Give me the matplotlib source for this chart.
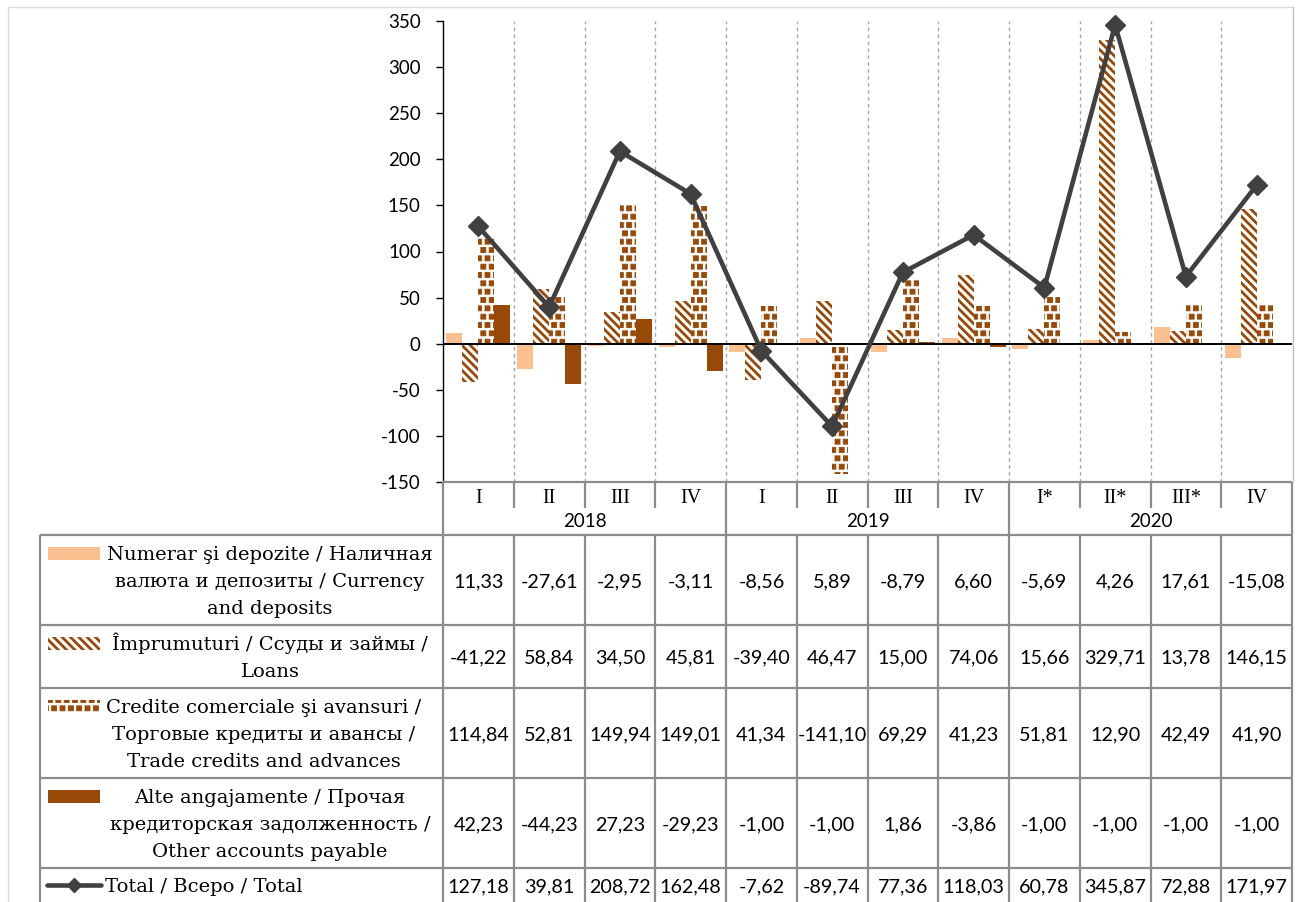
import numpy as np
import matplotlib
matplotlib.use('Agg')
import matplotlib.pyplot as plt
from matplotlib import hatch as mhatch
from matplotlib.path import Path
from matplotlib.patches import Rectangle

# ---------------- data ----------------
quarters = ['I', 'II', 'III', 'IV', 'I', 'II', 'III', 'IV', 'I*', 'II*', 'III*', 'IV']
years = ['2018', '2019', '2020']
currency = [11.33, -27.61, -2.95, -3.11, -8.56, 5.89, -8.79, 6.60, -5.69, 4.26, 17.61, -15.08]
loans = [-41.22, 58.84, 34.50, 45.81, -39.40, 46.47, 15.00, 74.06, 15.66, 329.71, 13.78, 146.15]
trade = [114.84, 52.81, 149.94, 149.01, 41.34, -141.10, 69.29, 41.23, 51.81, 12.90, 42.49, 41.90]
other = [42.23, -44.23, 27.23, -29.23, -1.00, -1.00, 1.86, -3.86, -1.00, -1.00, -1.00, -1.00]
total = [127.18, 39.81, 208.72, 162.48, -7.62, -89.74, 77.36, 118.03, 60.78, 345.87, 72.88, 171.97]
label_currency = ['Numerar şi depozite / Наличная', 'валюта и депозиты / Currency', 'and deposits']
label_loans = ['Împrumuturi / Ссуды и займы /', 'Loans']
label_trade = ['Credite comerciale şi avansuri /', 'Торговые кредиты и авансы /', 'Trade credits and advances']
label_other = ['Alte angajamente / Прочая', 'кредиторская задолженность /', 'Other accounts payable']
label_total = 'Total / Всеро / Total'
yticks = [-150, -100, -50, 0, 50, 100, 150, 200, 250, 300, 350]


# ---------------- custom square hatch (replaces '*') ----------------
class SmallSquares(mhatch.Shapes):
    filled = True
    size = 0.6

    def __init__(self, hatch, density):
        self.num_rows = hatch.count('*') * density
        sq = Path.unit_rectangle()
        self.shape_vertices = sq.vertices - 0.5
        self.shape_codes = sq.codes
        super().__init__(hatch, density)


_i = mhatch._hatch_types.index(mhatch.Stars)
mhatch._hatch_types[_i] = SmallSquares

# ---------------- style ----------------
C_CUR = '#FAC090'
C_BROWN = '#984807'
C_LINE = '#404040'
C_GRID = '#8c8c8c'
SERIF = 'DejaVu Serif'
CAT_SERIF = 'Liberation Serif'
SANS = 'Lato'

W, H = 1303, 902
L, R, T, B = 443, 1292, 21, 482
n = len(quarters)
cw = (R - L) / n

fig = plt.figure(figsize=(W / 100, H / 100), dpi=100)
ax = fig.add_axes([L / W, 1 - B / H, (R - L) / W, (B - T) / H])
x = np.arange(n)
bw = 0.226

series = [currency, loans, trade, other]
styles = [
    dict(color=C_CUR, hatch=None, hlw=1.0),
    dict(facecolor='white', edgecolor=C_BROWN, hatch='\\\\\\\\', hlw=2.0),
    dict(facecolor='white', edgecolor=C_BROWN, hatch='**', hlw=0.6),
    dict(color=C_BROWN, hatch=None, hlw=1.0),
]
for k, (vals, st) in enumerate(zip(series, styles)):
    st = dict(st)
    hlw = st.pop('hlw')
    with plt.rc_context({'hatch.linewidth': hlw}):
        ax.bar(x + (k - 1.5) * bw, vals, width=bw, linewidth=0, zorder=2, **st)

ax.plot(x, total, color=C_LINE, lw=3.3, marker='D', ms=10.5, zorder=6, clip_on=False)
ax.axhline(0, color='black', lw=1.4, zorder=4)
for b in np.arange(0.5, n - 0.5, 1.0):
    ax.axvline(b, color='#a6a6a6', lw=1.0, ls=(0, (2.5, 2.5)), zorder=0.5)

ax.set_xlim(-0.5, n - 0.5)
ax.set_ylim(-150, 350)
ax.set_yticks(yticks)
ax.set_yticklabels([str(v) for v in yticks], fontsize=13.5, family=SANS)
ax.tick_params(axis='y', length=5, width=1, color='black', pad=11)
ax.set_xticks([])
for s in ['top', 'right', 'bottom']:
    ax.spines[s].set_visible(False)
ax.spines['left'].set_color('black')
ax.spines['left'].set_linewidth(1.0)

# ---------------- table overlay (pixel coordinates) ----------------
tab = fig.add_axes([0, 0, 1, 1])
tab.set_xlim(0, W)
tab.set_ylim(H, 0)
tab.axis('off')


def line(xs, ys, color=C_GRID, lw=1.6):
    tab.plot(xs, ys, color=color, lw=lw, solid_capstyle='butt')


# outer border
line([8, 8], [7, H], color='#d9d9d9', lw=1.0)
line([8, 1294], [7, 7], color='#d9d9d9', lw=1.0)
line([R + 1, R + 1], [7, B], color='#bfbfbf', lw=1.0)

row_edges = [535, 625, 688, 778, 868, 902]
LX = 40
line([L, R], [B, B])
for y in row_edges[:-1]:
    line([LX, R], [y, y])
line([LX, LX], [535, H])
line([L, L], [B, H])
line([R, R], [B, H])
for k in range(1, n):
    xb = L + k * cw
    if k % 4 == 0:
        line([xb, xb], [B, H])
    else:
        line([xb, xb], [B, 508])
        line([xb, xb], [535, H])

# category + year labels
for i, q in enumerate(quarters):
    tab.text(L + (i + 0.5) * cw, 503, q, ha='center', va='baseline', fontsize=14.5, family=CAT_SERIF)
for j, yname in enumerate(years):
    tab.text(L + (4 * j + 2) * cw, 527, yname, ha='center', va='baseline', fontsize=13.5, family=SANS)

# data rows
all_rows = [currency, loans, trade, other, total]
for r, vals in enumerate(all_rows):
    yc = (row_edges[r] + row_edges[r + 1]) / 2
    for i, v in enumerate(vals):
        tab.text(L + (i + 0.5) * cw, yc + 7.0, f"{v:.2f}".replace('.', ','), ha='center',
                 va='baseline', fontsize=14.2, family=SANS)

# row labels with swatches
labels = [label_currency, label_loans, label_trade, label_other]
centers_x = [270, 270, 264, 270]
LS = 27
for r, lines_ in enumerate(labels):
    yc = (row_edges[r] + row_edges[r + 1]) / 2
    nl = len(lines_)
    first = yc - (nl - 1) / 2 * LS
    for li, txt in enumerate(lines_):
        tab.text(centers_x[r], first + li * LS + 7.2, txt, ha='center', va='baseline',
                 fontsize=14, family=SERIF)
    st = dict(styles[r])
    hlw = st.pop('hlw')
    with plt.rc_context({'hatch.linewidth': hlw}):
        rect = Rectangle((48, first - 6.5), 52, 13, linewidth=0, **st)
    tab.add_patch(rect)

# total row
yt = (row_edges[4] + row_edges[5]) / 2
tab.plot([47, 101], [yt, yt], color=C_LINE, lw=3.3, solid_capstyle='round')
tab.plot([74], [yt], color=C_LINE, marker='D', ms=7.5)
tab.text(105, yt + 7.2, label_total, ha='left', va='baseline', fontsize=14, family=SERIF)

fig.savefig('out.png', dpi=100)
